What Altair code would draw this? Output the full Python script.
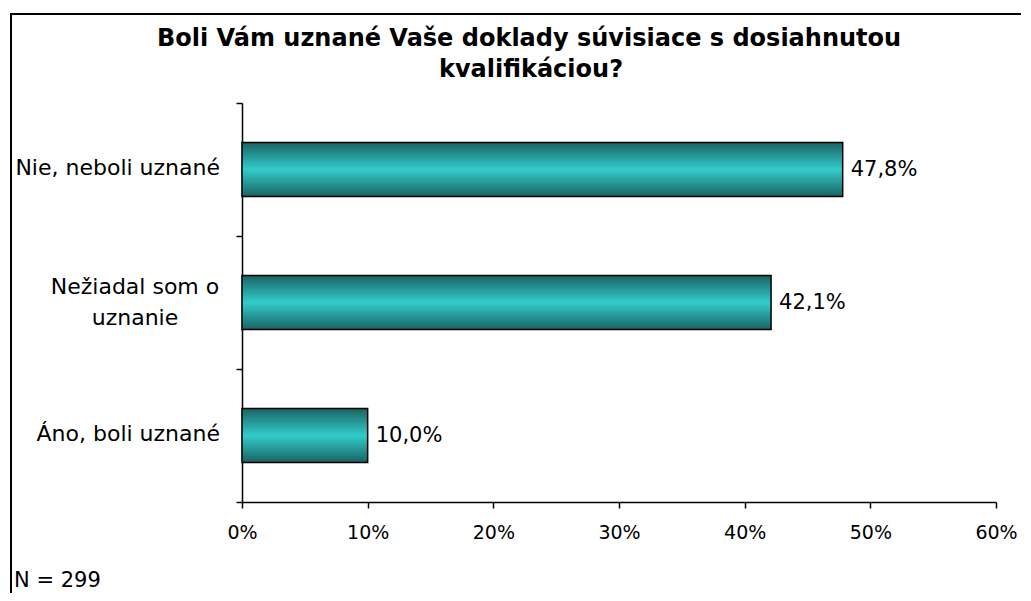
import altair as alt
import pandas as pd

categories = ["Nie, neboli uznané", "Nežiadal som o uznanie", "Áno, boli uznané"]
values = [47.8, 42.1, 10.0]
label_lines = [["Nie, neboli uznané"], ["Nežiadal som o", "uznanie"], ["Áno, boli uznané"]]
x_ticks = [0, 10, 20, 30, 40, 50, 60]
title_lines = ["Boli Vám uznané Vaše doklady súvisiace s dosiahnutou", "kvalifikáciou?"]
note = "N = 299"

FONT = "DejaVu Sans"

df = pd.DataFrame({
    "cat": categories,
    "val": [v / 100 for v in values],
    "txt": [f"{v:.1f}".replace(".", ",") + "%" for v in values],
    "lines": label_lines,
    "multi": [len(l) > 1 for l in label_lines],
})

W, H = 754, 399

yscale = alt.Scale(domain=categories, paddingInner=0, paddingOuter=0)
xscale = alt.Scale(domain=[0, 0.6], nice=False)
Y = alt.Y("cat:N", scale=yscale, sort=categories, axis=alt.Axis(
    title=None, labels=False, grid=False, tickBand="extent",
    domainColor="black", domainWidth=1.5, tickColor="black", tickWidth=1.5, tickSize=6,
))

base = alt.Chart(df)

frame = alt.Chart(pd.DataFrame({"a": [0]})).mark_rect(
    fill=None, stroke="black", strokeWidth=2
).encode(
    x=alt.value(-231), x2=alt.value(900), y=alt.value(-89), y2=alt.value(700)
)

bars = base.mark_bar(
    size=54,
    stroke="black",
    strokeWidth=1.5,
    color=alt.Gradient(
        gradient="linear",
        x1=0, y1=0, x2=0, y2=1,
        stops=[
            alt.GradientStop(color="#1a6262", offset=0),
            alt.GradientStop(color="#33cccc", offset=0.5),
            alt.GradientStop(color="#1a6262", offset=1),
        ],
    ),
).encode(
    x=alt.X("val:Q", scale=xscale, axis=alt.Axis(
        values=[t / 100 for t in x_ticks], format=".0%", title=None, grid=False,
        labelFlush=False, labelOverlap=False,
        domainColor="black", domainWidth=1.5, tickColor="black", tickWidth=1.5, tickSize=6,
        labelFont=FONT, labelFontSize=19, labelColor="black", labelPadding=15,
    )),
    y=Y,
)

vals = base.mark_text(
    align="left", baseline="middle", dx=8, dy=0, font=FONT, fontSize=21, color="black"
).encode(
    x=alt.X("val:Q", scale=xscale),
    y=Y,
    text="txt:N",
)

single = base.transform_filter("!datum.multi").mark_text(
    align="right", baseline="middle", dy=-2, font=FONT, fontSize=22, color="black"
).encode(
    x=alt.value(-22),
    y=Y,
    text="cat:N",
)

multi = base.transform_filter("datum.multi").mark_text(
    align="center", baseline="middle", dy=-16, lineHeight=31, font=FONT, fontSize=22, color="black"
).encode(
    x=alt.value(-107),
    y=Y,
    text="lines",
)

t1 = alt.Chart(pd.DataFrame({"t": [title_lines[0]]})).mark_text(
    align="center", baseline="alphabetic", font=FONT, fontSize=24, fontWeight="bold", color="black"
).encode(x=alt.value(287), y=alt.value(-57), text="t:N")

t2 = alt.Chart(pd.DataFrame({"t": [title_lines[1]]})).mark_text(
    align="center", baseline="alphabetic", font=FONT, fontSize=24, fontWeight="bold", color="black"
).encode(x=alt.value(289), y=alt.value(-26), text="t:N")

ntext = alt.Chart(pd.DataFrame({"t": [note]})).mark_text(
    align="left", baseline="alphabetic", font=FONT, fontSize=21, color="black"
).encode(
    x=alt.value(-228), y=alt.value(484), text="t:N"
)

chart = alt.layer(frame, bars, vals, single, multi, t1, t2, ntext).properties(
    width=W, height=H,
    padding={"left": 234, "top": 95, "right": 25, "bottom": 91},
    autosize=alt.AutoSizeParams(type="none"),
).configure(background="white").configure_view(stroke=None)

chart.save("out.html", embed_options={"renderer": "svg", "actions": False})
